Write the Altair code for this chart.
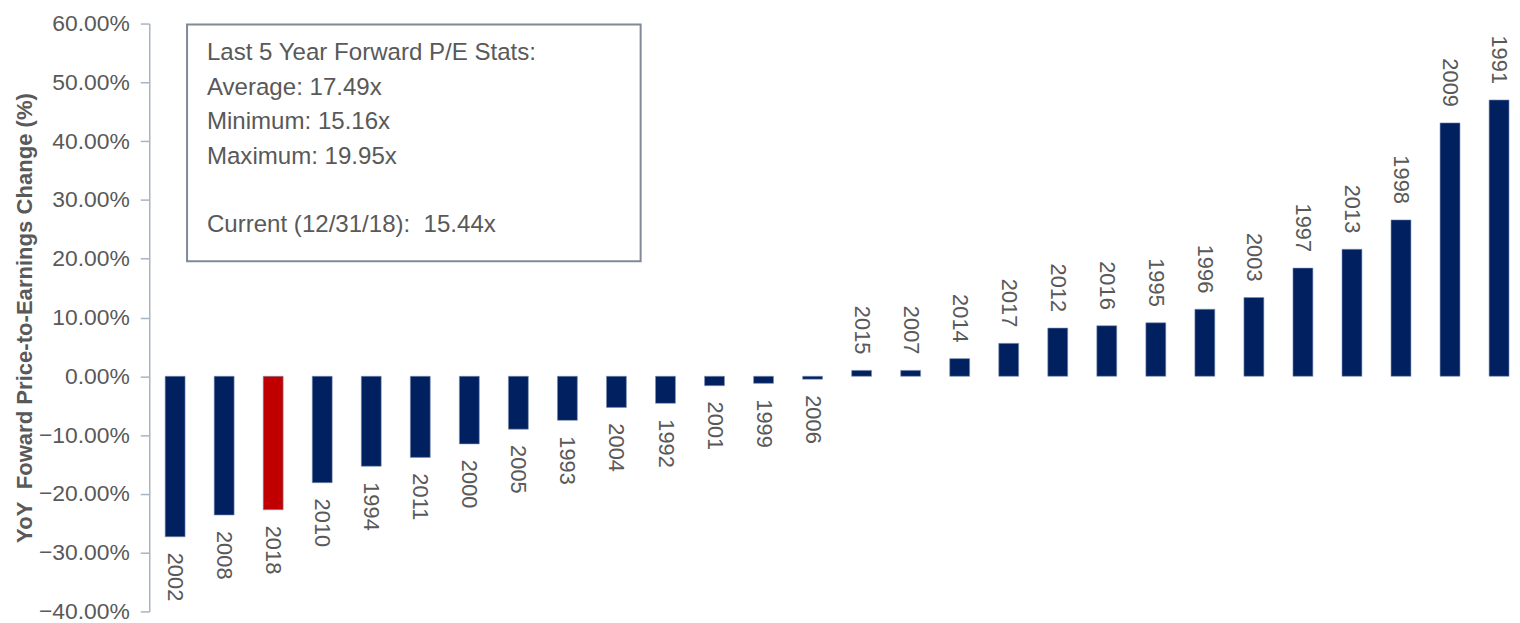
import altair as alt
import pandas as pd

# ---- data ----
years = ["2002", "2008", "2018", "2010", "1994", "2011", "2000", "2005", "1993", "2004",
         "1992", "2001", "1999", "2006", "2015", "2007", "2014", "2017", "2012", "2016",
         "1995", "1996", "2003", "1997", "2013", "1998", "2009", "1991"]
change_pct = [-27.3, -23.6, -22.7, -18.1, -15.3, -13.8, -11.5, -9.0, -7.5, -5.3,
              -4.6, -1.6, -1.2, -0.5, 1.0, 1.0, 3.0, 5.6, 8.2, 8.6,
              9.1, 11.4, 13.4, 18.4, 21.6, 26.6, 43.1, 47.0]
highlight_year = "2018"
y_ticks = [-0.4, -0.3, -0.2, -0.1, 0.0, 0.1, 0.2, 0.3, 0.4, 0.5, 0.6]
stat_lines = ["Last 5 Year Forward P/E Stats:",
              "Average: 17.49x",
              "Minimum: 15.16x",
              "Maximum: 19.95x"]
current_line = "Current (12/31/18):\u00a0 15.44x"
y_title = "YoY\u00a0 Foward Price-to-Earnings Change (%)"

df = pd.DataFrame({
    "year": years,
    "change": [v / 100 for v in change_pct],
    "group": ["Current" if y == highlight_year else "Other" for y in years],
})

FONT = "Liberation Sans, Arial, sans-serif"
TXT = "#595959"
AXC = "#A9B4C2"
PLOT_W = 1370
PLOT_H = 591
LINE_H = 34.6

x_enc = alt.X("year:N", sort=years,
              scale=alt.Scale(range=[16, 1367], paddingInner=0.594, paddingOuter=0),
              axis=None)
y_enc = alt.Y("change:Q",
              scale=alt.Scale(domain=[-0.4, 0.6], nice=False, zero=True),
              axis=alt.Axis(values=y_ticks, format=".2%", grid=False,
                            domainColor=AXC, domainWidth=1.5,
                            tickColor=AXC, tickWidth=1.5, tickSize=9,
                            labelPadding=11, labelFont=FONT, labelFontSize=23,
                            labelColor=TXT, labelOverlap=False, labelFlush=False,
                            title=y_title, titleFont=FONT, titleFontSize=22.2,
                            titleFontWeight="bold", titleColor=TXT,
                            titleX=-125, titleY=PLOT_H / 2, titleAngle=-90,
                            titleAlign="center", titleBaseline="middle"))

base = alt.Chart(df)

bars = base.mark_bar(stroke="#7d8fb3", strokeWidth=0.6).encode(
    x=x_enc,
    y=y_enc,
    color=alt.Color("group:N",
                    scale=alt.Scale(domain=["Other", "Current"], range=["#002060", "#C00000"]),
                    legend=None),
)

neg_labels = base.transform_filter("datum.change < 0").mark_text(
    angle=90, align="left", baseline="middle", dx=16,
    font=FONT, fontSize=22, color=TXT,
).encode(x=x_enc, y=alt.Y("change:Q"), text="year:N")

pos_labels = base.transform_filter("datum.change >= 0").mark_text(
    angle=90, align="right", baseline="middle", dx=-16,
    font=FONT, fontSize=22, color=TXT,
).encode(x=x_enc, y=alt.Y("change:Q"), text="year:N")

one = pd.DataFrame({"k": [0]})
box = alt.Chart(one).mark_rect(fill="white", stroke="#7F8A96", strokeWidth=2).encode(
    x=alt.value(38), x2=alt.value(494), y=alt.value(1), y2=alt.value(239)
)
stats = alt.Chart(one).mark_text(
    text=stat_lines, align="left", baseline="alphabetic", lineHeight=LINE_H,
    font=FONT, fontSize=24.2, color=TXT,
).encode(x=alt.value(58), y=alt.value(37))
current = alt.Chart(one).mark_text(
    text=current_line, align="left", baseline="alphabetic",
    font=FONT, fontSize=24.2, color=TXT,
).encode(x=alt.value(58), y=alt.value(37 + 5 * LINE_H))

chart = alt.layer(bars, neg_labels, pos_labels, box, stats, current).properties(
    width=PLOT_W, height=PLOT_H,
    autosize=alt.AutoSizeParams(type="none"),
    padding={"left": 142, "top": 14, "right": 0, "bottom": 10},
    background="white",
).configure_view(stroke=None)

chart.save("out.html", embed_options={"renderer": "svg", "actions": False})
